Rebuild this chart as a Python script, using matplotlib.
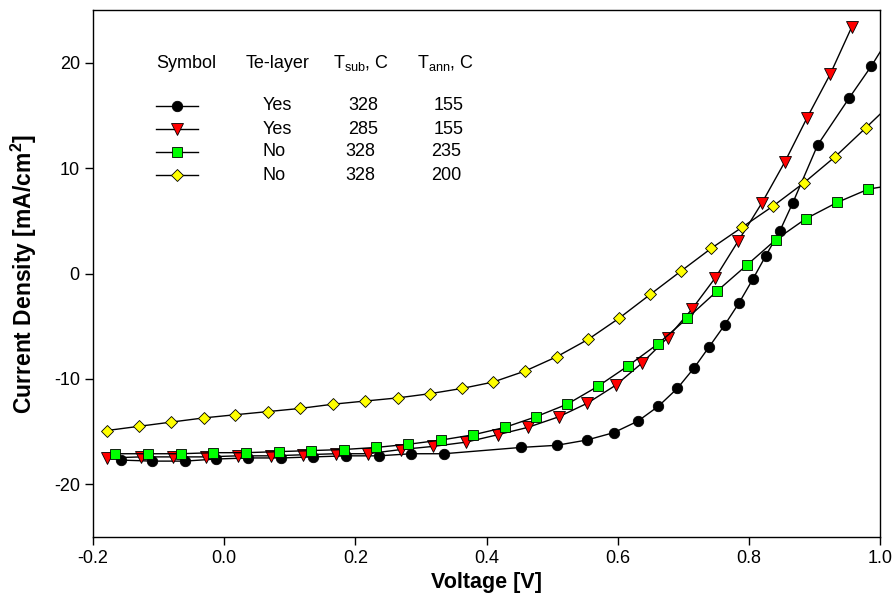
import matplotlib
matplotlib.use("Agg")
import matplotlib.pyplot as plt

plt.rcParams['font.family'] = ['Liberation Sans', 'DejaVu Sans']
plt.rcParams['mathtext.fontset'] = 'custom'
plt.rcParams['mathtext.rm'] = 'Liberation Sans'
plt.rcParams['mathtext.it'] = 'Liberation Sans:italic'
plt.rcParams['mathtext.bf'] = 'Liberation Sans:bold'
plt.rcParams['axes.unicode_minus'] = False

# ---- data ----
v_black = [-0.158, -0.110, -0.060, -0.012, 0.037, 0.087, 0.136, 0.186, 0.236, 0.285, 0.335,
           0.453, 0.507, 0.553, 0.594, 0.631, 0.662, 0.691, 0.716, 0.739, 0.763, 0.785,
           0.806, 0.826, 0.847, 0.867, 0.905, 0.953, 0.987, 1.020]
j_black = [-17.7, -17.8, -17.8, -17.6, -17.5, -17.5, -17.4, -17.3, -17.3, -17.1, -17.1,
           -16.5, -16.3, -15.8, -15.1, -14.0, -12.6, -10.9, -9.0, -7.0, -4.9, -2.8,
           -0.55, 1.7, 4.0, 6.7, 12.2, 16.65, 19.7, 23.0]

v_red = [-0.178, -0.127, -0.078, -0.028, 0.021, 0.072, 0.120, 0.170, 0.219, 0.270, 0.319,
         0.369, 0.417, 0.463, 0.510, 0.554, 0.597, 0.637, 0.676, 0.713, 0.749, 0.784,
         0.820, 0.855, 0.889, 0.924, 0.957]
j_red = [-17.5, -17.4, -17.4, -17.4, -17.3, -17.3, -17.2, -17.1, -17.1, -16.7, -16.4,
         -16.0, -15.3, -14.6, -13.6, -12.3, -10.6, -8.5, -6.1, -3.4, -0.4, 3.1,
         6.7, 10.6, 14.8, 18.9, 23.4]

v_green = [-0.166, -0.116, -0.066, -0.017, 0.033, 0.083, 0.133, 0.182, 0.232, 0.281, 0.331,
           0.380, 0.428, 0.475, 0.523, 0.570, 0.615, 0.661, 0.706, 0.751, 0.797, 0.841,
           0.887, 0.935, 0.982, 1.030]
j_green = [-17.1, -17.1, -17.1, -17.0, -17.0, -16.9, -16.8, -16.7, -16.5, -16.2, -15.8,
           -15.3, -14.6, -13.6, -12.4, -10.7, -8.8, -6.7, -4.25, -1.7, 0.8, 3.2,
           5.2, 6.75, 8.0, 8.5]

v_yellow = [-0.179, -0.130, -0.081, -0.031, 0.017, 0.067, 0.116, 0.166, 0.215, 0.265, 0.314,
            0.363, 0.410, 0.459, 0.507, 0.555, 0.602, 0.650, 0.697, 0.743, 0.790, 0.837,
            0.884, 0.932, 0.978, 1.025]
j_yellow = [-14.9, -14.5, -14.1, -13.7, -13.4, -13.1, -12.8, -12.4, -12.1, -11.8, -11.4,
            -10.9, -10.3, -9.25, -7.9, -6.25, -4.25, -1.97, 0.25, 2.4, 4.4, 6.4,
            8.6, 11.1, 13.8, 16.6]

legend_header = ["Symbol", "Te-layer", r"T$_{\rm sub}$, C", r"T$_{\rm ann}$, C"]
te_layer = ["Yes", "Yes", "No", "No"]
t_sub = ["328", "285", "328", "328"]
t_ann = ["155", "155", "235", "200"]

x_ticks = [-0.2, 0.0, 0.2, 0.4, 0.6, 0.8, 1.0]
y_ticks = [-20, -10, 0, 10, 20]

# ---- styles ----
styles = [
    dict(marker='o', mfc='black', ms=7.5),
    dict(marker='v', mfc='#ff0000', ms=8),
    dict(marker='s', mfc='#00ff00', ms=7),
    dict(marker='D', mfc='#ffff00', ms=6.5),
]
series = [(v_black, j_black), (v_red, j_red), (v_green, j_green), (v_yellow, j_yellow)]

FS = 13

fig = plt.figure(figsize=(8.95, 5.95), dpi=100)
ax = fig.add_axes([93/895, 58/595, 787/895, 527/595])

for (vx, jy), st in zip(series, styles):
    ax.plot(vx, jy, color='black', lw=1.0, marker=st['marker'], ms=st['ms'],
            mfc=st['mfc'], mec='black', mew=0.6)

ax.set_xlim(-0.2, 1.0)
ax.set_ylim(-25, 25)
ax.set_xticks(x_ticks)
ax.set_xticklabels([f"{t:.1f}" for t in x_ticks])
ax.set_yticks(y_ticks)
ax.set_yticklabels([f"{t:d}" for t in y_ticks])
ax.tick_params(direction='out', length=5.5, width=1, labelsize=FS, pad=4)
for s in ax.spines.values():
    s.set_linewidth(1.0)

ax.set_xlabel("Voltage [V]", fontsize=15.5, fontweight='bold', labelpad=3.5)
ax.set_ylabel(r"Current Density [mA/cm$^\mathbf{2}$]", fontsize=16.5,
              fontweight='bold', labelpad=11)

# ---- legend table ----
def px(x, y):
    # figure pixel coordinates (from top-left) -> figure fraction
    return x / 895, 1 - y / 595

hdr_x = [156, 246, 333, 417]
for hx, h in zip(hdr_x, legend_header):
    fig.text(*px(hx, 63), h, fontsize=FS, ha='left', va='center')

row_y = [106, 129, 152, 175]
col_sub_x = [363.5, 363.5, 360.5, 360.5]
col_ann_x = [449, 449, 446, 446]
for i, st in enumerate(styles):
    y = row_y[i]
    x0, yy = px(156, y)
    x1, _ = px(198, y)
    xm, _ = px(177, y)
    fig.add_artist(plt.Line2D([x0, x1], [yy, yy], color='black', lw=1.0,
                              transform=fig.transFigure))
    fig.add_artist(plt.Line2D([xm], [yy], color='black', lw=0, marker=st['marker'],
                              ms=st['ms'], mfc=st['mfc'], mec='black', mew=0.6,
                              transform=fig.transFigure))
    fig.text(*px(263, y), te_layer[i], fontsize=FS, ha='left', va='center')
    fig.text(*px(col_sub_x[i], y), t_sub[i], fontsize=FS, ha='center', va='center')
    fig.text(*px(col_ann_x[i], y), t_ann[i], fontsize=FS, ha='center', va='center')

fig.savefig("out.png", dpi=100)
